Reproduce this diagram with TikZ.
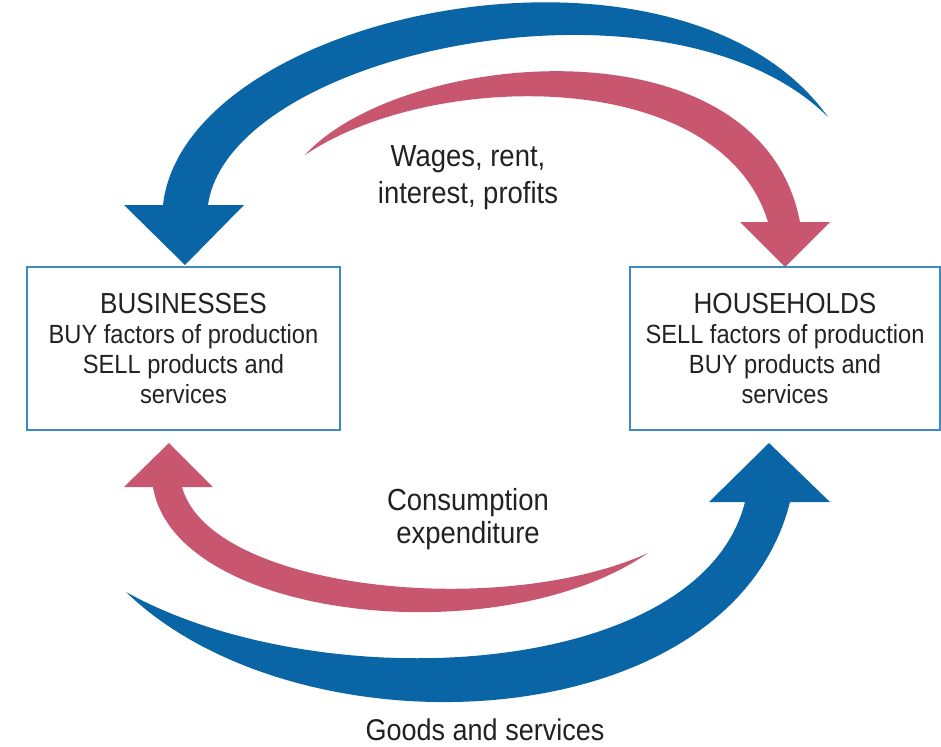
\documentclass[tikz,border=0pt]{standalone}
\usepackage{fontspec}
\setmainfont{Liberation Sans}[FakeStretch=0.9]
\definecolor{cfblue}{HTML}{0A65A7}
\definecolor{cfpink}{HTML}{C8566F}
\definecolor{cfbox}{HTML}{3A8AC6}
\definecolor{cftext}{HTML}{222222}
\tikzset{
  flowbox/.style={draw=cfbox, line width=1.5pt, fill=white, minimum height=163pt,
    align=center, text=cftext, font=\fontsize{26.3}{30}\selectfont, inner sep=0pt},
  lbl/.style={align=center, text=cftext, inner sep=0pt},
}
\begin{document}
\begin{tikzpicture}[x=1pt,y=-1pt]
\useasboundingbox (0,0) rectangle (941,746);
% top blue arrow (households -> businesses)
\fill[cfblue] (163,205) .. controls (185,10) and (680,-90) .. (828,117)
  .. controls (670,-40) and (230,50) .. (208,205) -- (244,205) -- (185,265) -- (124,205) -- cycle;
% top pink arrow
\fill[cfpink] (305,155) .. controls (400,50) and (760,15) .. (800,222) -- (830,222) -- (785,267)
  -- (740,222) -- (768,222) .. controls (720,65) and (430,70) .. (305,155) -- cycle;
% bottom pink arrow
\fill[cfpink] (153,487) .. controls (175,620) and (500,655) .. (648,553)
  .. controls (500,620) and (210,590) .. (182,487) -- (213,487) -- (169,443) -- (124,487) -- cycle;
% bottom blue arrow
\fill[cfblue] (126,592) .. controls (300,760) and (730,740) .. (790,502) -- (830,502) -- (769,443)
  -- (709,502) -- (745,502) .. controls (700,680) and (320,700) .. (126,592) -- cycle;
% boxes
\node[flowbox, minimum width=313pt] (bus) at (183.5,348.5)
  {{\fontsize{29}{30}\selectfont BUSINESSES}\\BUY factors of production\\SELL products and\\services};
\node[flowbox, minimum width=310pt] (hh) at (785,348.5)
  {{\fontsize{29}{30}\selectfont HOUSEHOLDS}\\SELL factors of production\\BUY products and\\services};
% labels
\node[lbl, font=\fontsize{30.5}{37}\selectfont] (wages) at (468,178) {Wages, rent,\\interest, profits};
\node[lbl, font=\fontsize{30.5}{33}\selectfont] (cons) at (468,519) {Consumption\\expenditure};
\node[lbl, font=\fontsize{30}{33}\selectfont] (goods) at (485,730) {Goods and services};
\end{tikzpicture}
\end{document}
